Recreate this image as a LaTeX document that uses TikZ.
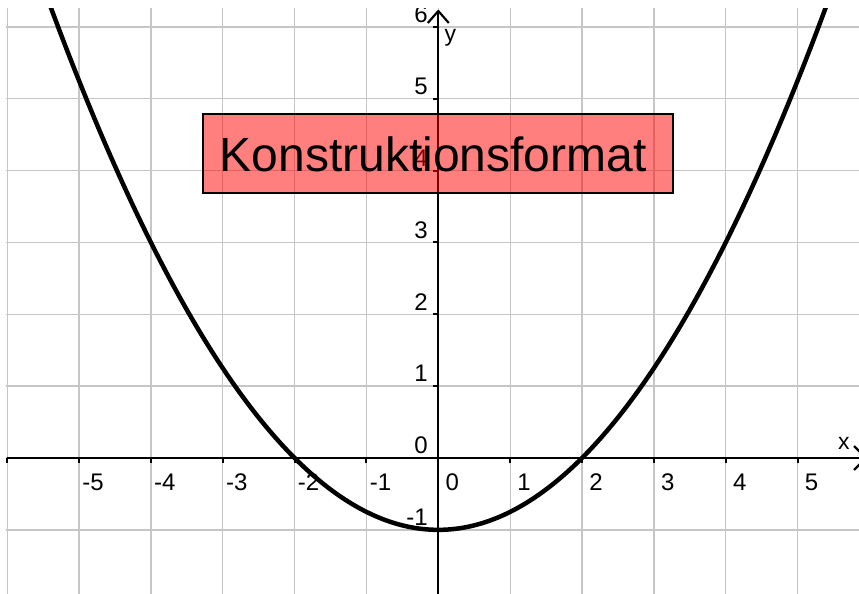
\documentclass[tikz,border=0pt]{standalone}
\usepackage{fontspec}
\setmainfont{Liberation Sans}
\begin{document}
\begin{tikzpicture}[x=71.85pt,y=71.85pt,
  gridline/.style={draw=gray!45, line width=1.3pt},
  axisline/.style={draw=black, line width=2.2pt},
  tickmark/.style={draw=black, line width=2pt},
  ticklab/.style={font=\fontsize{24}{24}\selectfont, inner sep=0pt},
  axislab/.style={font=\fontsize{23}{23}\selectfont, inner sep=0pt, anchor=base west},
  graphline/.style={draw=black, line width=4.5pt},
  labelbox/.style={draw=black, line width=2pt, fill=red, fill opacity=0.5, text opacity=1, inner sep=0pt},
  titletext/.style={font=\fontsize{48}{48}\selectfont, inner sep=0pt, anchor=base west}]
\useasboundingbox (-438.3pt,-136pt) rectangle (420.7pt,458pt);
\begin{scope}
\clip (-6.02,-136pt) rectangle (420.7pt,449.7pt);
% grid
\foreach \i in {-6,...,5} \draw[gridline] (\i,-2) -- (\i,7);
\foreach \j in {-1,...,6} \draw[gridline] (-7,\j) -- (7,\j);
% axes
\coordinate (xstart) at (-6,0);
\coordinate (xtip) at (427.7pt,0);
\coordinate (ystart) at (0,-2);
\coordinate (ytip) at (0,447pt);
\draw[axisline] (xstart) -- (xtip);
\draw[axisline] (ystart) -- (ytip);
\draw[axisline, line join=round] ([shift={(-12pt,12pt)}]xtip) -- (xtip) -- ([shift={(-12pt,-12pt)}]xtip);
\draw[axisline, line join=round] ([shift={(-10.5pt,-12pt)}]ytip) -- (ytip) -- ([shift={(10.5pt,-12pt)}]ytip);
% ticks
\foreach \i in {-6,-5,-4,-3,-2,-1,1,2,3,4,5} \draw[tickmark] (\i,0) -- ++(0,-5pt);
\foreach \j in {-1,1,2,3,4,5,6} \draw[tickmark] (0,\j) -- ++(-5pt,0);
% tick labels
\foreach \i in {-5,...,5} \node[ticklab] (xlab\i) at ([shift={(14pt,-24pt)}]\i,0) {\i};
\foreach \j in {-1,0,1,2,3,4,5,6} \node[ticklab, anchor=east] (ylab\j) at ([shift={(-10.5pt,12.5pt)}]0,\j) {\j};
% axis labels
\node[axislab] (xname) at (399.7pt,8pt) {x};
\node[axislab] (yname) at (6.2pt,416pt) {y};
% graph
\draw[graphline] plot[domain=-6.2:6.1, samples=241] (\x,{\x*\x/4-1});
\end{scope}
% label box
\node[labelbox, minimum width=470.6pt, minimum height=78.4pt] (box) at (-0.3pt,304.5pt) {};
\node[titletext] (title) at (-218.8pt,286.3pt) {Konstruktionsformat};
\end{tikzpicture}
\end{document}
